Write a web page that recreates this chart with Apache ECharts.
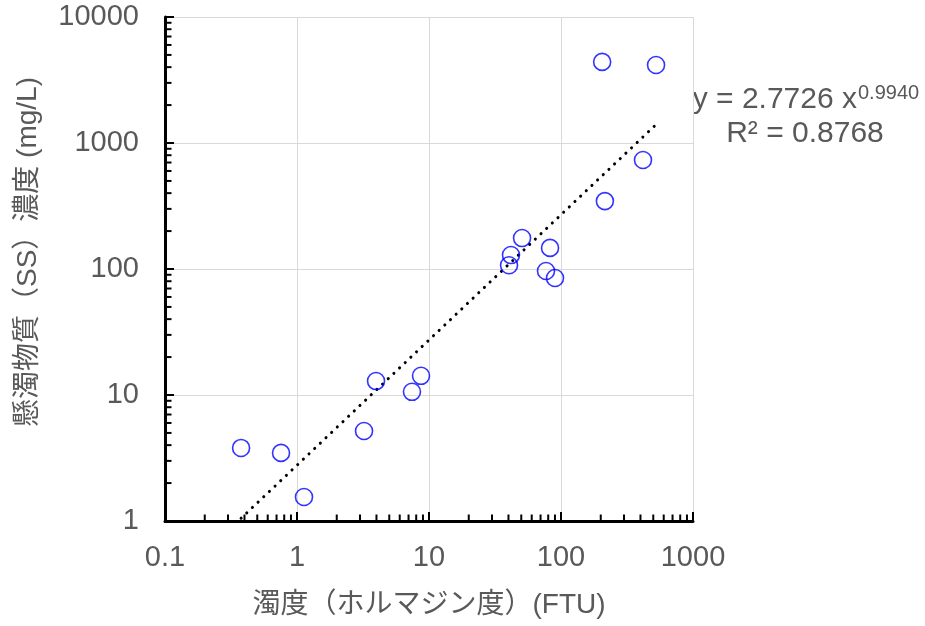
<!DOCTYPE html>
<html>
<head>
<meta charset="utf-8">
<script src="https://cdn.jsdelivr.net/npm/echarts@6/dist/echarts.min.js"></script>
<style>
html,body{margin:0;padding:0;background:#fff;}
#chart{width:925px;height:626px;}
</style>
</head>
<body>
<div id="chart"></div>
<script>
// Data
const turbidity = [0.377, 0.757, 1.13, 3.22, 3.97, 7.43, 8.7, 40.4, 41.8, 50.7, 82.6, 77, 90.1, 205, 525, 418, 215];
const ssConc    = [3.8, 3.47, 1.55, 5.18, 12.9, 10.6, 14.2, 107, 129, 176, 147, 96.4, 84.8, 4400, 4160, 733, 346];
// Power trendline coefficients (from the chart label)
const trendA = 2.7726;
const trendB = 0.9940;
const trendR2 = 0.8768;
// Axis ranges / tick values
const xTickLabels = ['0.1', '1', '10', '100', '1000'];
const yTickLabels = ['1', '10', '100', '1000', '10000'];
const xDecades = [0.1, 1, 10, 100];
const yDecades = [1, 10, 100, 1000];
const minorMultipliers = [2, 3, 4, 5, 6, 7, 8, 9];

const FONT = "'Liberation Sans', Arial, 'Noto Sans CJK JP', sans-serif";
const TXT = '#595959';

const points = turbidity.map((x, i) => [x, ssConc[i]]);
const xMin = Math.min(...turbidity), xMax = Math.max(...turbidity);
const trendXs = [xMin, 1, 10, 100, xMax];
const trend = trendXs.map(x => [x, trendA * Math.pow(x, trendB)]);

const xMinor = [];
xDecades.forEach(d => minorMultipliers.forEach(m => xMinor.push([d * m, 1])));
const yMinor = [];
yDecades.forEach(d => minorMultipliers.forEach(m => yMinor.push([0.1, d * m])));

const chart = echarts.init(document.getElementById('chart'), null, {renderer: 'canvas'});

function tickRender(dx, dy) {
  return function (params, api) {
    const p = api.coord([api.value(0), api.value(1)]);
    return {
      type: 'line',
      shape: {x1: p[0], y1: p[1], x2: p[0] + dx, y2: p[1] + dy},
      style: {stroke: '#000', lineWidth: 2}
    };
  };
}

function findLabel(list, v) {
  return list.find(t => Math.abs(parseFloat(t) - v) < 1e-9 * Math.max(1, v)) || '';
}

chart.setOption({
  animation: false,
  backgroundColor: '#fff',
  grid: {left: 165, top: 17, width: 528, height: 504, containLabel: false},
  xAxis: {
    type: 'log', logBase: 10, min: 0.1, max: 1000,
    name: '濁度（ホルマジン度）(FTU)',
    nameLocation: 'middle', nameGap: 70,
    nameTextStyle: {fontFamily: FONT, fontSize: 28, color: TXT},
    axisLine: {show: true, onZero: false, lineStyle: {color: '#000', width: 3}},
    axisTick: {show: true, inside: true, length: 9, lineStyle: {color: '#000', width: 2}},
    axisLabel: {
      margin: 22, fontFamily: FONT, fontSize: 29, color: TXT,
      formatter: v => findLabel(xTickLabels, v)
    },
    splitLine: {show: true, lineStyle: {color: '#d9d9d9', width: 1}}
  },
  yAxis: {
    type: 'log', logBase: 10, min: 1, max: 10000,
    axisLine: {show: true, onZero: false, lineStyle: {color: '#000', width: 3}},
    axisTick: {show: true, inside: true, length: 9, lineStyle: {color: '#000', width: 2}},
    axisLabel: {
      margin: 26, fontFamily: FONT, fontSize: 29, color: TXT,
      formatter: v => findLabel(yTickLabels, v)
    },
    splitLine: {show: true, lineStyle: {color: '#d9d9d9', width: 1}}
  },
  series: [
    {
      type: 'line', data: trend, showSymbol: false, symbol: 'none', silent: true, z: 3,
      lineStyle: {color: '#000', width: 3, type: [0.1, 7.7], cap: 'round'}
    },
    {
      type: 'scatter', data: points, symbol: 'circle', symbolSize: 17, z: 4,
      itemStyle: {color: 'rgba(0,0,0,0)', borderColor: '#0000ff', borderWidth: 1.6}
    },
    {
      type: 'custom', data: xMinor, silent: true, clip: false, z: 5,
      renderItem: tickRender(0, -6.5)
    },
    {
      type: 'custom', data: yMinor, silent: true, clip: false, z: 5,
      renderItem: tickRender(6.5, 0)
    }
  ],
  graphic: [
    {
      type: 'text', left: 14, top: 252 - 175, rotation: Math.PI / 2,
      originX: 0, originY: 0,
      style: {text: '懸濁物質（SS）濃度 (mg/L)', font: '28px ' + FONT, fill: TXT}
    },
    {
      type: 'text', x: 857, y: 85,
      style: {text: 'y = ' + trendA.toFixed(4) + ' x', font: '30px ' + FONT, fill: TXT, textAlign: 'right'}
    },
    {
      type: 'text', x: 858, y: 83,
      style: {text: trendB.toFixed(4), font: '20px ' + FONT, fill: TXT, textAlign: 'left'}
    },
    {
      type: 'text', x: 805, y: 119,
      style: {text: 'R² = ' + trendR2.toFixed(4), font: '30px ' + FONT, fill: TXT, textAlign: 'center'}
    }
  ]
});
</script>
</body>
</html>
